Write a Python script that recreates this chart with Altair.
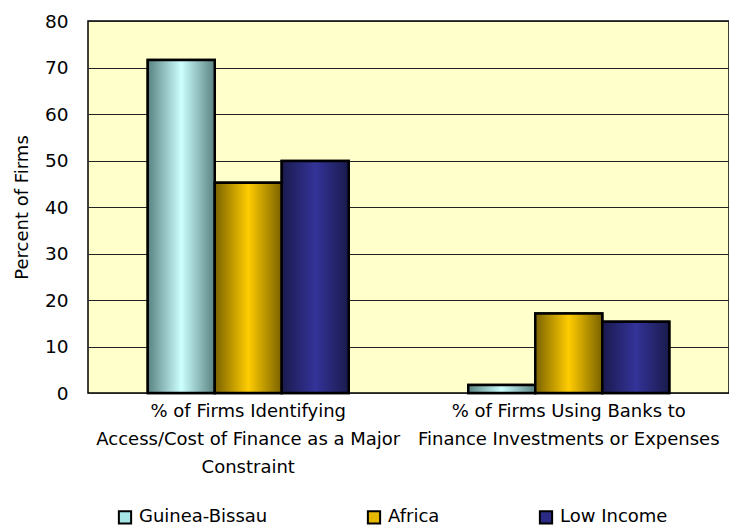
import altair as alt
import pandas as pd

categories = [
    "% of Firms Identifying|Access/Cost of Finance as a Major|Constraint",
    "% of Firms Using Banks to|Finance Investments or Expenses",
]
series = ["Guinea-Bissau", "Africa", "Low Income"]
guinea_bissau = [71.6, 1.7]
africa = [45.2, 17.1]
low_income = [49.9, 15.3]

light = ["#CCFFFF", "#FFCC00", "#333399"]
dark = ["#5A8282", "#7A6200", "#1A1A4D"]
legend_colors = ["#A6E6E6", "#E6B800", "#2B2B85"]

rows = []
for s, vals in zip(series, [guinea_bissau, africa, low_income]):
    for c, v in zip(categories, vals):
        rows.append({"category": c, "series": s, "value": v})
df = pd.DataFrame(rows)

FONT = "DejaVu Sans"

base = alt.Chart(df).encode(
    x=alt.X(
        "category:N",
        sort=categories,
        scale=alt.Scale(paddingInner=0.373, paddingOuter=0.1865),
        axis=alt.Axis(
            title=None,
            ticks=False,
            domain=False,
            labelAngle=0,
            labelExpr="split(datum.label, '|')",
            labelFontSize=18,
            labelLineHeight=28,
            labelPadding=9,
            labelLimit=0,
            labelColor="black",
            labelFont=FONT,
            labelBaseline="top",
        ),
    ),
    xOffset=alt.XOffset("series:N", sort=series, scale=alt.Scale(domain=series, paddingInner=0, paddingOuter=0)),
    y=alt.Y(
        "value:Q",
        scale=alt.Scale(domain=[0, 80]),
        axis=alt.Axis(
            title="Percent of Firms",
            values=list(range(0, 81, 10)),
            ticks=False,
            domain=False,
            grid=True,
            gridColor="#222222",
            gridWidth=1,
            gridOpacity=1,
            labelFontSize=18.5,
            labelPadding=20,
            labelColor="black",
            labelFont=FONT,
            titleFont=FONT,
            titleFontSize=18,
            titleFontWeight="normal",
            titleColor="black",
            titlePadding=13,
        ),
    ),
)

legend_layer = base.mark_bar(stroke="black", strokeWidth=2.5).encode(
    color=alt.Color(
        "series:N",
        sort=series,
        scale=alt.Scale(domain=series, range=legend_colors),
        legend=alt.Legend(
            title=None,
            orient="none",
            direction="horizontal",
            legendX=28,
            legendY=487,
            symbolType="square",
            symbolSize=150,
            symbolStrokeColor="black",
            symbolStrokeWidth=2,
            symbolOpacity=1,
            labelFontSize=18,
            labelFont=FONT,
            labelColor="black",
            labelOffset=5,
            columnPadding=95,
        ),
    )
)

layers = [legend_layer]
for s, lc, dc in zip(series, light, dark):
    grad = alt.Gradient(
        gradient="linear",
        stops=[
            alt.GradientStop(color=dc, offset=0),
            alt.GradientStop(color=lc, offset=0.5),
            alt.GradientStop(color=dc, offset=1),
        ],
        x1=0, x2=1, y1=0, y2=0,
    )
    layers.append(
        base.transform_filter(alt.datum.series == s).mark_bar(
            fill=grad, stroke="black", strokeWidth=2.5
        )
    )

chart = (
    alt.layer(*layers)
    .properties(
        width=641,
        height=372,
        background="white",
        padding={"left": 5, "top": 4, "right": 0, "bottom": 0},
    )
    .configure_view(fill="#FFFFCC", stroke="black", strokeWidth=1.5)
)

chart.save("out.html", embed_options={"renderer": "svg", "actions": False})
